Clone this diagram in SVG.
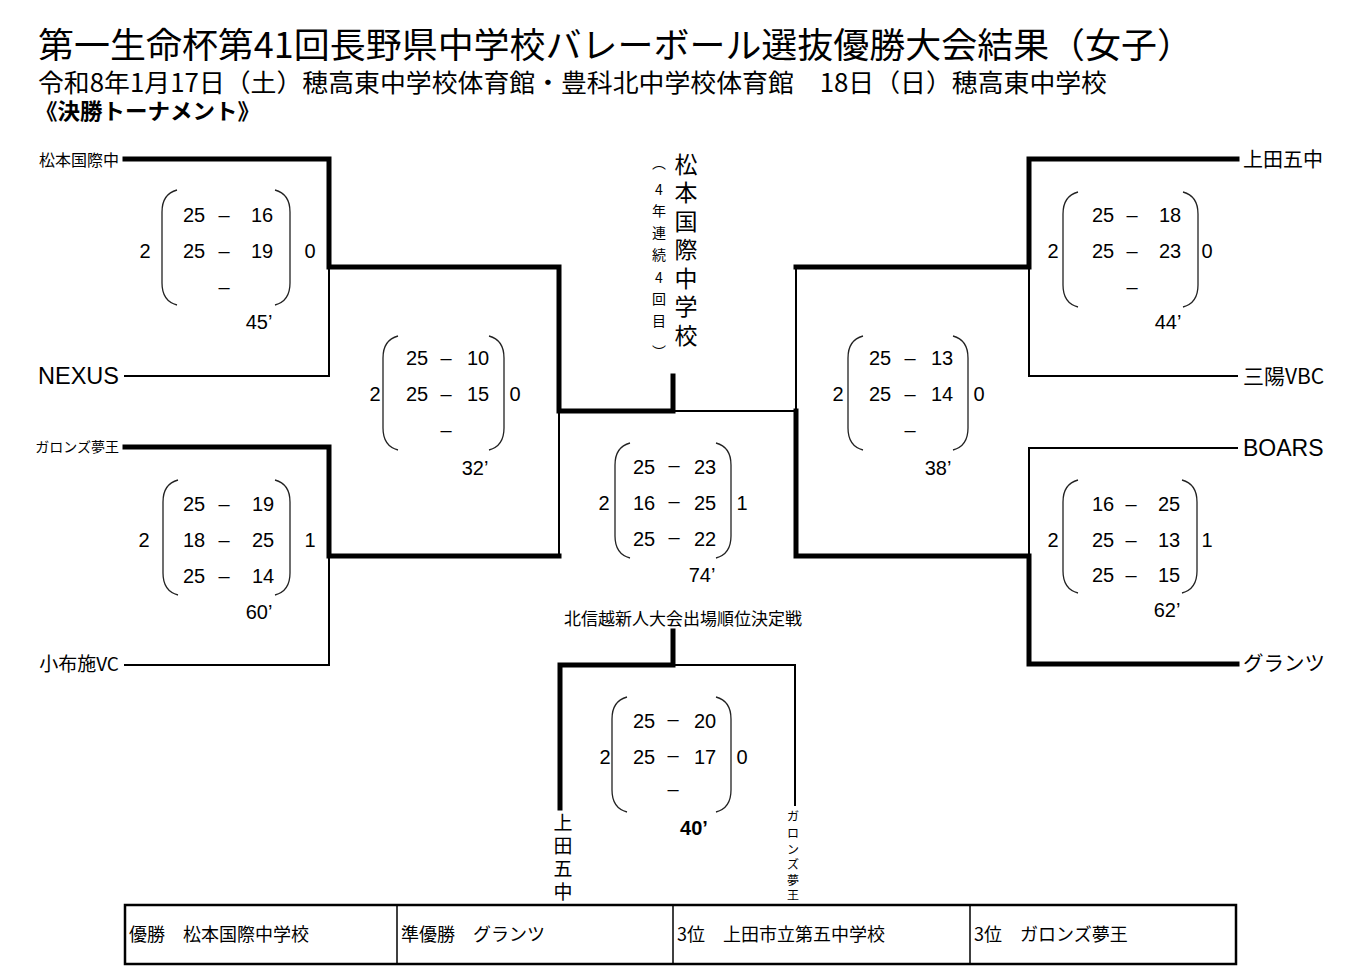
<svg xmlns="http://www.w3.org/2000/svg" width="1355" height="979" viewBox="0 0 1355 979">
<style>
.jp{font-family:"Noto Sans CJK JP","Liberation Sans",sans-serif;fill:#000}
.sc{font-family:"Liberation Sans",Arial,sans-serif;font-size:20px;text-anchor:middle;fill:#000}
.tk{stroke:#000;stroke-width:5;fill:none;stroke-linecap:square;stroke-linejoin:miter}
.tn{stroke:#000;stroke-width:2;fill:none;stroke-linecap:square}
.par{stroke:#222;stroke-width:1.3;fill:none}
.vt{font-family:"Noto Sans CJK JP",sans-serif;text-anchor:middle;fill:#000}
</style>
<rect width="1355" height="979" fill="#fff"/>
<g id="header">
<text class="jp" x="38" y="58" font-size="35" textLength="1155" lengthAdjust="spacingAndGlyphs">第一生命杯第41回長野県中学校バレーボール選抜優勝大会結果（女子）</text>
<text class="jp" x="38" y="92" font-size="25" textLength="1069" lengthAdjust="spacingAndGlyphs">令和8年1月17日（土）穂高東中学校体育館・豊科北中学校体育館　18日（日）穂高東中学校</text>
<text class="jp" x="35" y="119" font-size="22" font-weight="bold" textLength="225" lengthAdjust="spacingAndGlyphs">《決勝トーナメント》</text>
</g>
<g id="connectors">
<polyline class="tk" points="125,159 329,159 329,267 559,267 559,411 673,411 673,376"/>
<polyline class="tn" points="329,267 329,376 125,376"/>
<polyline class="tk" points="125,447 329,447 329,556 559,556"/>
<polyline class="tn" points="329,556 329,665 125,665"/>
<line class="tn" x1="559" y1="411" x2="559" y2="556"/>
<line class="tn" x1="673" y1="411" x2="796" y2="411"/>
<polyline class="tn" points="796,411 796,267"/>
<polyline class="tk" points="1237,159 1029,159 1029,267 796,267"/>
<polyline class="tn" points="1029,267 1029,376 1237,376"/>
<polyline class="tn" points="1237,448 1029,448 1029,556"/>
<polyline class="tk" points="1237,664 1029,664 1029,556 796,556 796,411"/>
<polyline class="tk" points="673,631 673,665 560,665 560,808"/>
<polyline class="tn" points="673,665 795,665 795,805"/>
</g>
<g id="champion">
<text class="vt" font-size="23"><tspan x="686" y="173">松</tspan><tspan x="686" y="201">本</tspan><tspan x="686" y="230">国</tspan><tspan x="686" y="258">際</tspan><tspan x="686" y="287">中</tspan><tspan x="686" y="315">学</tspan><tspan x="686" y="344">校</tspan></text>
<text class="vt" font-size="14"><tspan x="659" y="168">︵</tspan><tspan x="659" y="195">4</tspan><tspan x="659" y="216">年</tspan><tspan x="659" y="238">連</tspan><tspan x="659" y="260">続</tspan><tspan x="659" y="283">4</tspan><tspan x="659" y="304">回</tspan><tspan x="659" y="326">目</tspan><tspan x="659" y="357">︶</tspan></text>
</g>
<g id="team-matsumoto"><text class="jp" x="119" y="166" font-size="16" text-anchor="end">松本国際中</text></g>
<g id="team-nexus"><text x="119" y="384" font-size="23.5" text-anchor="end" font-family="Liberation Sans, Arial, sans-serif">NEXUS</text></g>
<g id="team-garonzu"><text class="jp" x="119" y="452" font-size="14" text-anchor="end">ガロンズ夢王</text></g>
<g id="team-obuse"><text class="jp" x="119" y="671" font-size="19" text-anchor="end">小布施VC</text></g>
<g id="team-ueda"><text class="jp" x="1243" y="167" font-size="20">上田五中</text></g>
<g id="team-sanyo"><text class="jp" x="1243" y="384" font-size="21">三陽VBC</text></g>
<g id="team-boars"><text x="1243" y="456" font-size="23" font-family="Liberation Sans, Arial, sans-serif">BOARS</text></g>
<g id="team-grants"><text class="jp" x="1243" y="671" font-size="20.5">グランツ</text></g>

<g id="qf-l1">
<path class="par" d="M177,190 Q162,194 162,212 L162,283 Q162,301 177,305"/>
<path class="par" d="M275,190 Q290,194 290,212 L290,283 Q290,301 275,305"/>
<text class="sc" x="145" y="258">2</text><text class="sc" x="310" y="258">0</text>
<text class="sc" x="194" y="222">25</text><text class="sc" x="224" y="222">–</text><text class="sc" x="262" y="222">16</text>
<text class="sc" x="194" y="258">25</text><text class="sc" x="224" y="258">–</text><text class="sc" x="262" y="258">19</text>
<text class="sc" x="224" y="294">–</text>
<text class="sc" x="259" y="329">45’</text>
</g>
<g id="qf-l2">
<path class="par" d="M178,480 Q163,484 163,502 L163,573 Q163,591 178,595"/>
<path class="par" d="M275,480 Q290,484 290,502 L290,573 Q290,591 275,595"/>
<text class="sc" x="144" y="547">2</text><text class="sc" x="310" y="547">1</text>
<text class="sc" x="194" y="511">25</text><text class="sc" x="224" y="511">–</text><text class="sc" x="263" y="511">19</text>
<text class="sc" x="194" y="547">18</text><text class="sc" x="224" y="547">–</text><text class="sc" x="263" y="547">25</text>
<text class="sc" x="194" y="583">25</text><text class="sc" x="224" y="583">–</text><text class="sc" x="263" y="583">14</text>
<text class="sc" x="259" y="619">60’</text>
</g>
<g id="sf-l">
<path class="par" d="M398,336 Q383,340 383,358 L383,428 Q383,446 398,450"/>
<path class="par" d="M489,336 Q504,340 504,358 L504,428 Q504,446 489,450"/>
<text class="sc" x="375" y="401">2</text><text class="sc" x="515" y="401">0</text>
<text class="sc" x="417" y="365">25</text><text class="sc" x="446" y="365">–</text><text class="sc" x="478" y="365">10</text>
<text class="sc" x="417" y="401">25</text><text class="sc" x="446" y="401">–</text><text class="sc" x="478" y="401">15</text>
<text class="sc" x="446" y="437">–</text>
<text class="sc" x="475" y="475">32’</text>
</g>
<g id="final">
<path class="par" d="M630,443 Q615,447 615,465 L615,536 Q615,554 630,558"/>
<path class="par" d="M716,443 Q731,447 731,465 L731,536 Q731,554 716,558"/>
<text class="sc" x="604" y="510">2</text><text class="sc" x="742" y="510">1</text>
<text class="sc" x="644" y="474">25</text><text class="sc" x="674" y="472">–</text><text class="sc" x="705" y="474">23</text>
<text class="sc" x="644" y="510">16</text><text class="sc" x="674" y="508">–</text><text class="sc" x="705" y="510">25</text>
<text class="sc" x="644" y="546">25</text><text class="sc" x="674" y="544">–</text><text class="sc" x="705" y="546">22</text>
<text class="sc" x="702" y="582">74’</text>
</g>
<g id="sf-r">
<path class="par" d="M863,336 Q848,340 848,358 L848,428 Q848,446 863,450"/>
<path class="par" d="M953,336 Q968,340 968,358 L968,428 Q968,446 953,450"/>
<text class="sc" x="838" y="401">2</text><text class="sc" x="979" y="401">0</text>
<text class="sc" x="880" y="365">25</text><text class="sc" x="910" y="365">–</text><text class="sc" x="942" y="365">13</text>
<text class="sc" x="880" y="401">25</text><text class="sc" x="910" y="401">–</text><text class="sc" x="942" y="401">14</text>
<text class="sc" x="910" y="437">–</text>
<text class="sc" x="938" y="475">38’</text>
</g>
<g id="qf-r1">
<path class="par" d="M1078,192 Q1063,196 1063,214 L1063,285 Q1063,303 1078,307"/>
<path class="par" d="M1183,192 Q1198,196 1198,214 L1198,285 Q1198,303 1183,307"/>
<text class="sc" x="1053" y="258">2</text><text class="sc" x="1207" y="258">0</text>
<text class="sc" x="1103" y="222">25</text><text class="sc" x="1132" y="222">–</text><text class="sc" x="1170" y="222">18</text>
<text class="sc" x="1103" y="258">25</text><text class="sc" x="1132" y="258">–</text><text class="sc" x="1170" y="258">23</text>
<text class="sc" x="1132" y="294">–</text>
<text class="sc" x="1168" y="329">44’</text>
</g>
<g id="qf-r2">
<path class="par" d="M1078,480 Q1063,484 1063,502 L1063,571 Q1063,589 1078,593"/>
<path class="par" d="M1182,480 Q1197,484 1197,502 L1197,571 Q1197,589 1182,593"/>
<text class="sc" x="1053" y="547">2</text><text class="sc" x="1207" y="547">1</text>
<text class="sc" x="1103" y="511">16</text><text class="sc" x="1131" y="511">–</text><text class="sc" x="1169" y="511">25</text>
<text class="sc" x="1103" y="547">25</text><text class="sc" x="1131" y="547">–</text><text class="sc" x="1169" y="547">13</text>
<text class="sc" x="1103" y="582">25</text><text class="sc" x="1131" y="582">–</text><text class="sc" x="1169" y="582">15</text>
<text class="sc" x="1167" y="617">62’</text>
</g>
<g id="third-place">
<text class="jp" x="683" y="625" font-size="17" text-anchor="middle">北信越新人大会出場順位決定戦</text>
<path class="par" d="M627,697 Q612,701 612,719 L612,790 Q612,808 627,812"/>
<path class="par" d="M716,697 Q731,701 731,719 L731,790 Q731,808 716,812"/>
<text class="sc" x="605" y="764">2</text><text class="sc" x="742" y="764">0</text>
<text class="sc" x="644" y="728">25</text><text class="sc" x="673" y="726">–</text><text class="sc" x="705" y="728">20</text>
<text class="sc" x="644" y="764">25</text><text class="sc" x="673" y="762">–</text><text class="sc" x="705" y="764">17</text>
<text class="sc" x="673" y="796">–</text>
<text class="sc" x="694" y="835" font-weight="bold">40’</text>
<text class="vt" font-size="19"><tspan x="563" y="830">上</tspan><tspan x="563" y="853">田</tspan><tspan x="563" y="876">五</tspan><tspan x="563" y="899">中</tspan></text>
<text class="vt" font-size="12"><tspan x="793" y="821">ガ</tspan><tspan x="793" y="838">ロ</tspan><tspan x="793" y="854">ン</tspan><tspan x="793" y="869">ズ</tspan><tspan x="793" y="885">夢</tspan><tspan x="793" y="900">王</tspan></text>
</g>
<g id="results-table">
<rect x="125" y="905" width="1111" height="59" fill="none" stroke="#000" stroke-width="2.5"/>
<line x1="397" y1="905" x2="397" y2="964" stroke="#000" stroke-width="1.5"/>
<line x1="673" y1="905" x2="673" y2="964" stroke="#000" stroke-width="1.5"/>
<line x1="970" y1="905" x2="970" y2="964" stroke="#000" stroke-width="1.5"/>
<text class="jp" x="129" y="941" font-size="18">優勝　松本国際中学校</text>
<text class="jp" x="401" y="941" font-size="18">準優勝　グランツ</text>
<text class="jp" x="677" y="941" font-size="18">3位　上田市立第五中学校</text>
<text class="jp" x="974" y="941" font-size="18">3位　ガロンズ夢王</text>
</g>
</svg>
